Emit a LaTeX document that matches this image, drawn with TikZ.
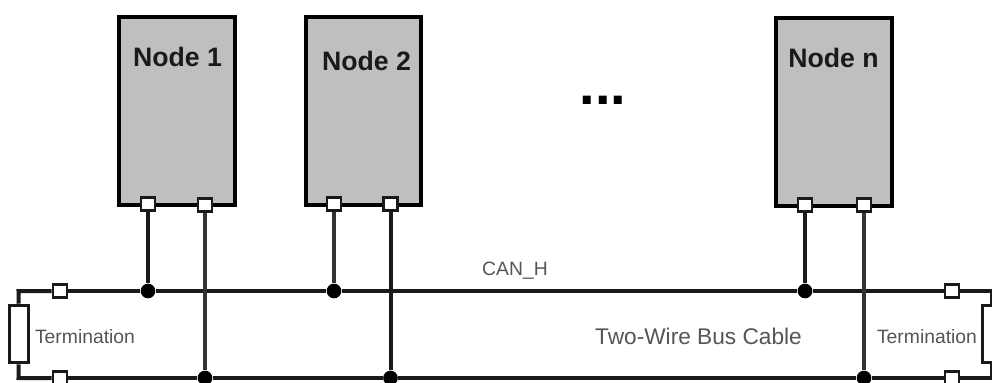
\documentclass[tikz,border=0pt]{standalone}
\usepackage{fontspec}
\setmainfont{Liberation Sans}
\usetikzlibrary{positioning}
\definecolor{nodegray}{HTML}{BFBFBF}
\definecolor{wiredark}{HTML}{1A1A1A}
\definecolor{wiregray}{HTML}{333333}
\definecolor{textgray}{HTML}{555555}
\tikzset{
  nodebox/.style={draw=black, fill=nodegray, line width=3pt, minimum height=141pt, inner sep=0pt},
  boxlabel/.style={font=\fontsize{20}{22}\selectfont\bfseries, text=wiredark, inner sep=0pt},
  port/.style={draw=wiredark, fill=white, line width=2pt, minimum width=10.5pt, minimum height=10pt, inner sep=0pt},
  junction/.style={circle, fill=black, minimum size=11pt, inner sep=0pt},
  resistor/.style={draw=wiredark, fill=white, line width=2.4pt, minimum width=14pt, minimum height=43pt, inner sep=0pt},
  buslabel/.style={font=\fontsize{14.5}{16}\selectfont, text=textgray, inner sep=0pt},
  wire/.style={wiredark, line width=3pt},
  wirethin/.style={wiregray, line width=2.6pt}
}
\begin{document}
\begin{tikzpicture}[x=0.75pt, y=-0.75pt]
        \path[use as bounding box, clip] (0,0) rectangle (992,382);
        % nodes on the bus
        \node[nodebox, minimum width=87pt] (node1) at (176.5,111) {};
        \node[nodebox, minimum width=86.25pt] (node2) at (363.5,111) {};
        \node[nodebox, minimum width=87pt] (noden) at (834,112) {};
        \node[boxlabel] (label1) at (177.5,57) {Node 1};
        \node[boxlabel] (label2) at (366.5,61) {Node 2};
        \node[boxlabel] (labeln) at (833.5,58) {Node n};
        \node[font=\fontsize{42}{44}\selectfont\bfseries, anchor=base, inner sep=0pt] (dots) at (603,104) {...};
        % ports
        \node[port] (port1h) at (148,204) {};
        \node[port] (port1l) at (205,205) {};
        \node[port] (port2h) at (334,204) {};
        \node[port] (port2l) at (390.5,204) {};
        \node[port] (portnh) at (805,205) {};
        \node[port] (portnl) at (864,205) {};
        \node[port] (porttl) at (60,291) {};
        \node[port] (portbl) at (60,378) {};
        \node[port] (porttr) at (952,291) {};
        \node[port] (portbr) at (952,378) {};
        % junctions
        \node[junction] (join1h) at (148,291) {};
        \node[junction] (join2h) at (334,291) {};
        \node[junction] (joinnh) at (805,291) {};
        \node[junction] (join1l) at (205,378) {};
        \node[junction] (join2l) at (390.5,378) {};
        \node[junction] (joinnl) at (864,378) {};
        % terminations
        \node[resistor] (terml) at (19,334) {};
        \node[resistor] (termr) at (992,334) {};
        \coordinate (cornertl) at (18.5,291);
        \coordinate (cornerbl) at (18.5,378);
        \coordinate (cornertr) at (992,291);
        \coordinate (cornerbr) at (992,378);
        % bus
        \draw[wire] (terml) -- (cornertl) -- (porttl);
        \draw[wire] (terml) -- (cornerbl) -- (portbl);
        \draw[wire] (termr) -- (cornertr) -- (porttr);
        \draw[wire] (termr) -- (cornerbr) -- (portbr);
        \draw[wire] (porttl) -- (join1h) -- (join2h) -- (joinnh) -- (porttr);
        \draw[wire] (portbl) -- (join1l) -- (join2l) -- (joinnl) -- (portbr);
        % stubs
        \draw[wire] (port1h) -- (join1h);
        \draw[wirethin] (port1l) -- (join1l);
        \draw[wirethin] (port2h) -- (join2h);
        \draw[wire] (port2l) -- (join2l);
        \draw[wire] (portnh) -- (joinnh);
        \draw[wirethin] (portnl) -- (joinnl);
        % labels
        \node[buslabel] (canh) at (515,271) {CAN\_H};
        \node[buslabel, font=\fontsize{17}{19}\selectfont] (cable) at (698.5,336) {Two-Wire Bus Cable};
        \node[buslabel] (textl) at (85,337) {Termination};
        \node[buslabel] (textr) at (927,337) {Termination};
      \end{tikzpicture}
\end{document}
